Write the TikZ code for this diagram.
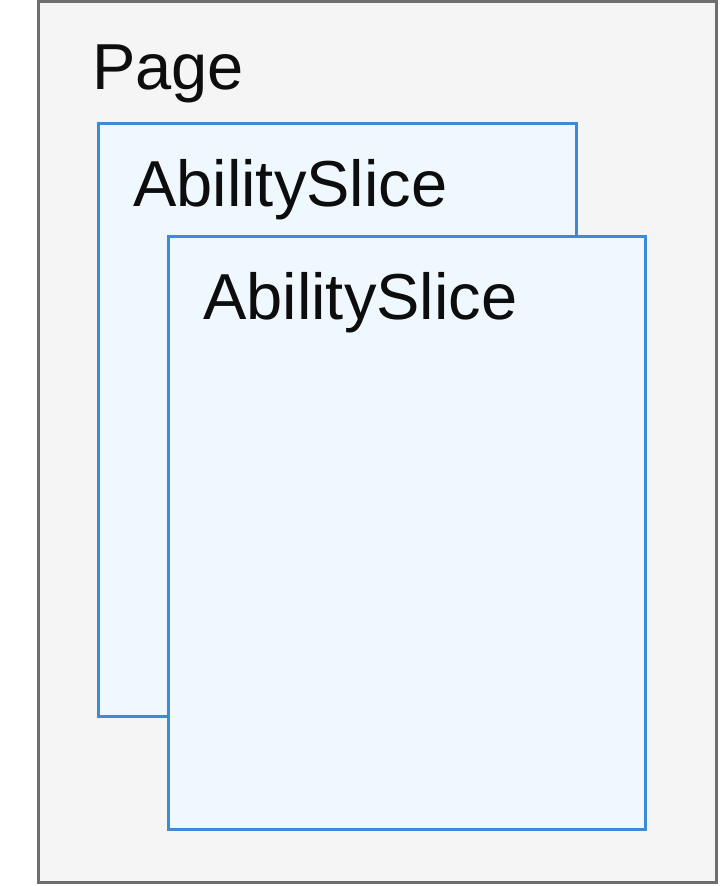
\documentclass[tikz,border=0pt]{standalone}
\usepackage{fontspec}
\setmainfont{Liberation Sans}
\usetikzlibrary{positioning,calc}
\definecolor{pagefill}{HTML}{F5F5F5}
\definecolor{pageline}{HTML}{6E6E6E}
\definecolor{slicefill}{HTML}{F0F8FF}
\definecolor{sliceline}{HTML}{3F8AD8}
\tikzset{
  pagebox/.style={draw=pageline, fill=pagefill, line width=3pt},
  slicebox/.style={draw=sliceline, fill=slicefill, line width=3pt},
  boxlabel/.style={anchor=base west, inner sep=0pt, text=black!95,
    font=\fontsize{65}{78}\selectfont}
}
\begin{document}
\begin{tikzpicture}[x=1pt,y=1pt]
 \useasboundingbox (0,0) rectangle (720,886);
 \coordinate (page_sw) at (38,3);
 \coordinate (page_ne) at (716,884);

    % draw page
    \draw[pagebox] (page_sw) rectangle (page_ne);
    \node[boxlabel] (page_label) at (92,796) {Page};

    % draw back slice
    \draw[slicebox] (98,169) coordinate (slice1_sw) rectangle (576,762) coordinate (slice1_ne);
    \node[boxlabel] (slice1_label) at ($(slice1_sw |- slice1_ne)+(35,-83)$) {AbilitySlice};

    % draw front slice
    \draw[slicebox] (168,56) coordinate (slice2_sw) rectangle (645,649) coordinate (slice2_ne);
    \node[boxlabel] (slice2_label) at ($(slice2_sw |- slice2_ne)+(35,-83)$) {AbilitySlice};

\end{tikzpicture}
\end{document}
